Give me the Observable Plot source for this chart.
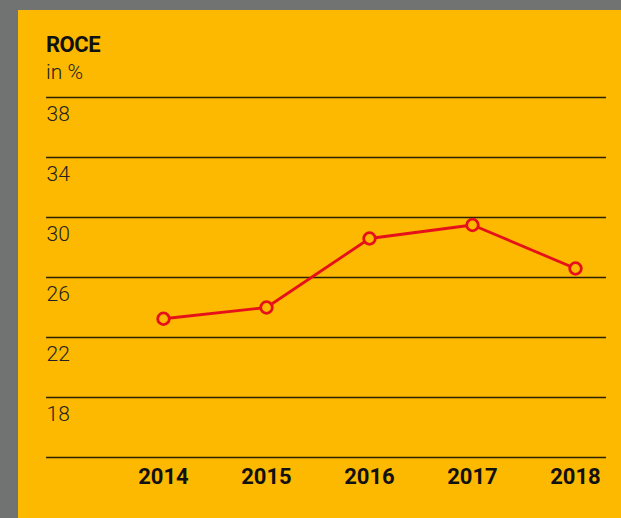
<!DOCTYPE html>
<html>
<head>
<meta charset="utf-8">
<script src="https://cdn.jsdelivr.net/npm/d3@7"></script>
<script src="https://cdn.jsdelivr.net/npm/@observablehq/plot@0.6"></script>
<style>
  html, body { margin: 0; padding: 0; }
  body { width: 621px; height: 518px; background: #717372; position: relative; overflow: hidden; }
  #panel { position: absolute; left: 18px; top: 10px; width: 603px; height: 508px; background: #FDB800; }
  #title { position: absolute; left: 46px; top: 34px; font-family: Roboto, sans-serif; font-weight: bold; font-size: 22px; line-height: 22px; color: #111; letter-spacing: -0.5px; }
  #subtitle { position: absolute; left: 46px; top: 62px; font-family: Roboto, sans-serif; font-weight: 300; font-size: 21px; line-height: 21px; color: #222; }
  #chart { position: absolute; left: 0; top: 0; }
</style>
</head>
<body>
<div id="panel"></div>
<div id="title">ROCE</div>
<div id="subtitle">in %</div>
<div id="chart"></div>
<script>
const years = [2014, 2015, 2016, 2017, 2018];
const roce = [23.25, 24.0, 28.6, 29.5, 26.6];
const gridTicks = [14, 18, 22, 26, 30, 34, 38];
const tickLabels = [18, 22, 26, 30, 34, 38];

const data = years.map((year, i) => ({ year, value: roce[i] }));

const chart = Plot.plot({
  width: 621,
  height: 518,
  marginTop: 97,
  marginBottom: 61,
  marginLeft: 46,
  marginRight: 15,
  style: { background: "transparent", overflow: "visible" },
  x: { type: "point", domain: years, range: [161.7, 576], padding: 0, axis: null },
  y: { domain: [14, 38], axis: null },
  marks: [
    Plot.ruleY(gridTicks, { stroke: "#2a2200", strokeWidth: 1.3 }),
    Plot.text(tickLabels, {
      y: d => d, text: d => String(d), frameAnchor: "left", textAnchor: "start",
      dy: 17, fontFamily: "Roboto, sans-serif", fontWeight: 300, fontSize: 21, fill: "#222"
    }),
    Plot.text(years, {
      x: d => d, text: d => String(d), frameAnchor: "bottom", dy: 26,
      fontFamily: "Roboto, sans-serif", letterSpacing: "-0.5px",
      fontWeight: "bold", fontSize: 22, fill: "#111"
    }),
    Plot.line(data, { x: "year", y: "value", stroke: "#E5101A", strokeWidth: 2.8 }),
    Plot.dot(data, { x: "year", y: "value", r: 5.8, fill: "#FDB800", stroke: "#E5101A", strokeWidth: 2.8 })
  ]
});
document.getElementById("chart").appendChild(chart);
</script>
</body>
</html>
